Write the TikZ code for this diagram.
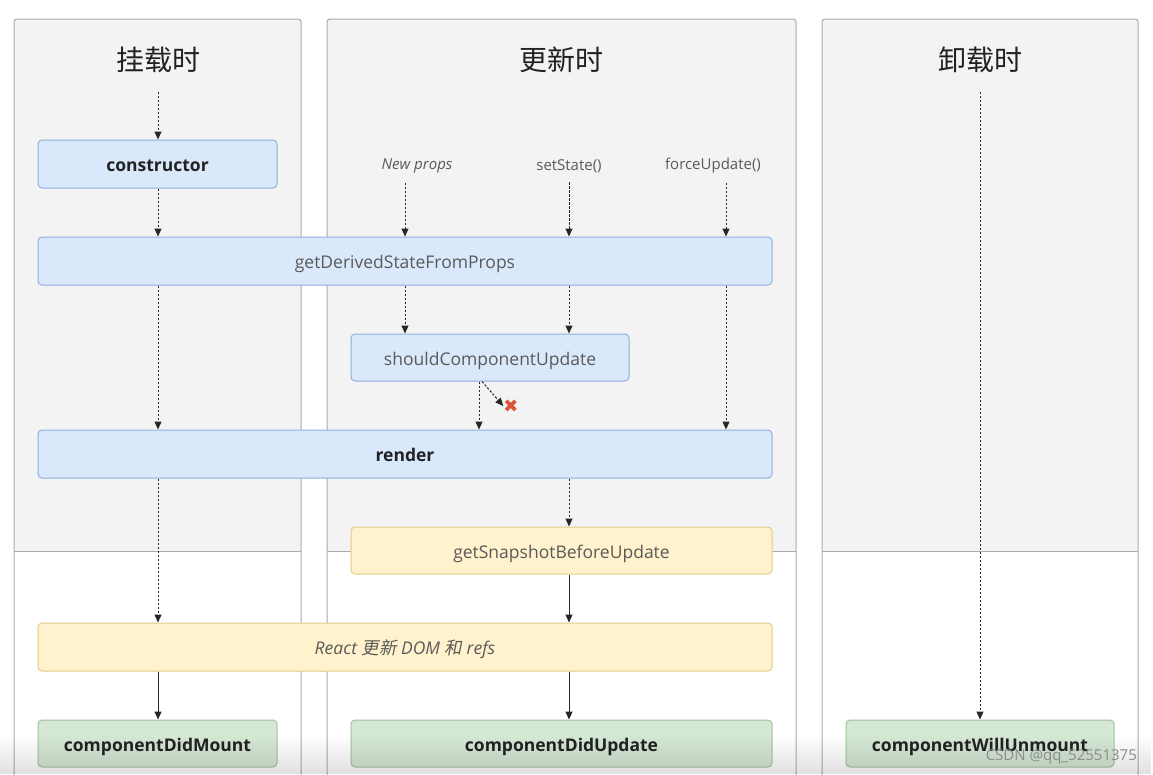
\documentclass[tikz,border=0pt]{standalone}
\usepackage{fontspec}
\setmainfont{Open Sans}
\newfontfamily\cjk{Noto Sans CJK SC}
\newfontfamily\cjkit[FakeSlant=0.2]{Noto Sans CJK SC}
\newfontfamily\sym{DejaVu Sans}
\usetikzlibrary{arrows.meta,fadings}
\definecolor{panelline}{HTML}{ABABAB}
\definecolor{panelgrey}{HTML}{F3F3F3}
\definecolor{bluefill}{HTML}{DAE8FC}
\definecolor{blueline}{HTML}{8FAEDC}
\definecolor{yelfill}{HTML}{FFF2CC}
\definecolor{yelline}{HTML}{E3CB8A}
\definecolor{grnfill}{HTML}{D5E8D4}
\definecolor{grnline}{HTML}{A3C39E}
\definecolor{txtdark}{HTML}{222222}
\definecolor{txtgrey}{HTML}{5A5A5A}
\definecolor{xred}{HTML}{D9543A}
\tikzset{
  panel/.style={draw=panelline, line width=1pt, rounded corners=3pt},
  box/.style={rounded corners=4pt, line width=1pt, inner sep=0pt, text height=18.5pt, text depth=3pt, font=\fontsize{17.5}{20}\selectfont, text=txtgrey},
  bluebox/.style={box, fill=bluefill, draw=blueline},
  yelbox/.style={box, fill=yelfill, draw=yelline},
  grnbox/.style={box, fill=grnfill, draw=grnline},
  heading/.style={font=\cjk\fontsize{28}{32}\selectfont, text=txtdark},
  trig/.style={font=\fontsize{15}{18}\selectfont, text=txtgrey},
  flow/.style={draw=black!85, line width=1pt, -{Triangle[length=8pt,width=7pt]}},
  dflow/.style={flow, dash pattern=on 2.4pt off 1.6pt},
}
\begin{document}
\begin{tikzpicture}[x=1pt,y=-1pt]
\useasboundingbox (0,0) rectangle (1153,774);
\begin{scope}
\clip (0,0) rectangle (1153,774);
% panels
\foreach \a/\b in {14/301, 327/796, 822/1138}{
  \fill[white] (\a,19) rectangle (\b,800);
  \fill[panelgrey] (\a,19) rectangle (\b,551);
  \draw[panelline, line width=1pt] (\a,551) -- (\b,551);
  \draw[panel] (\a,800) -- (\a,19) -- (\b,19) -- (\b,800);
}
\end{scope}

% headings
\node[heading] (h1) at (158,60) {挂载时};
\node[heading] (h2) at (561,60) {更新时};
\node[heading] (h3) at (980,60) {卸载时};

% column coordinates
\coordinate (cM) at (158,0);
\coordinate (cN) at (405,0);
\coordinate (cS) at (569,0);
\coordinate (cF) at (726,0);
\coordinate (cR) at (479,0);
\coordinate (cU) at (980,0);
\coordinate (topM) at (158,92);
\coordinate (topU) at (980,92);

% trigger labels
\node[trig, font=\fontsize{15}{18}\selectfont\itshape] (np) at (417,166) {New props};
\node[trig] (ss) at (569,166) {setState()};
\node[trig] (fu) at (713,166) {forceUpdate()};

% nodes
\node[bluebox, minimum width=239pt, minimum height=48pt] (ctor) at (157.5,164) {\textbf{\color{txtdark}constructor}};
\node[bluebox, minimum width=734pt, minimum height=48pt] (gd) at (405,261) {getDerivedStateFromProps};
\node[bluebox, minimum width=278pt, minimum height=47pt] (scu) at (490,357.5) {shouldComponentUpdate};
\node[bluebox, minimum width=734pt, minimum height=48pt] (rnd) at (405,454) {\textbf{\color{txtdark}render}};
\node[yelbox, minimum width=421pt, minimum height=47pt] (snap) at (561.5,550.5) {getSnapshotBeforeUpdate};
\node[yelbox, minimum width=734pt, minimum height=48pt] (dom) at (405,647) {\itshape React {\cjkit 更新} DOM {\cjkit 和} refs};
\node[grnbox, minimum width=239pt, minimum height=47pt] (cdm) at (157.5,743.5) {\textbf{\color{txtdark}componentDidMount}};
\node[grnbox, minimum width=421pt, minimum height=47pt] (cdu) at (561.5,743.5) {\textbf{\color{txtdark}componentDidUpdate}};
\node[grnbox, minimum width=268pt, minimum height=47pt] (cwu) at (980,743.5) {\textbf{\color{txtdark}componentWillUnmount}};

% red cross
\node[font=\sym\fontsize{18}{18}\selectfont, text=xred, inner sep=0pt] (xx) at (511,406) {✖};

% mount column
\draw[dflow] (topM) -- (ctor.north -| cM);
\draw[dflow] (ctor.south -| cM) -- (gd.north -| cM);
\draw[dflow] (gd.south -| cM) -- (rnd.north -| cM);
\draw[dflow] (rnd.south -| cM) -- (dom.north -| cM);
\draw[flow] (dom.south -| cM) -- (cdm.north -| cM);

% update column
\draw[dflow] (np.south -| cN) ++(0,6) -- (gd.north -| cN);
\draw[dflow] (ss.south -| cS) ++(0,6) -- (gd.north -| cS);
\draw[dflow] (fu.south -| cF) ++(0,6) -- (gd.north -| cF);
\draw[dflow] (gd.south -| cN) -- (scu.north -| cN);
\draw[dflow] (gd.south -| cS) -- (scu.north -| cS);
\draw[dflow] (gd.south -| cF) -- (rnd.north -| cF);
\draw[dflow] (scu.south -| cR) -- (rnd.north -| cR);
\draw[dflow] ([xshift=3pt]scu.south -| cR) -- (xx.west);
\draw[dflow] (rnd.south -| cS) -- (snap.north -| cS);
\draw[flow] (snap.south -| cS) -- (dom.north -| cS);
\draw[flow] (dom.south -| cS) -- (cdu.north -| cS);

% unmount column
\draw[dflow] (topU) -- (cwu.north -| cU);

% bottom fade and watermark
\fill[black, opacity=0.12, path fading=north] (0,735) rectangle (1153,774);
\node[anchor=east, font=\fontsize{15}{17}\selectfont, text=black!45, inner sep=0pt] (wm) at (1137,757) {CSDN @qq\_52551375};
\end{tikzpicture}
\end{document}
